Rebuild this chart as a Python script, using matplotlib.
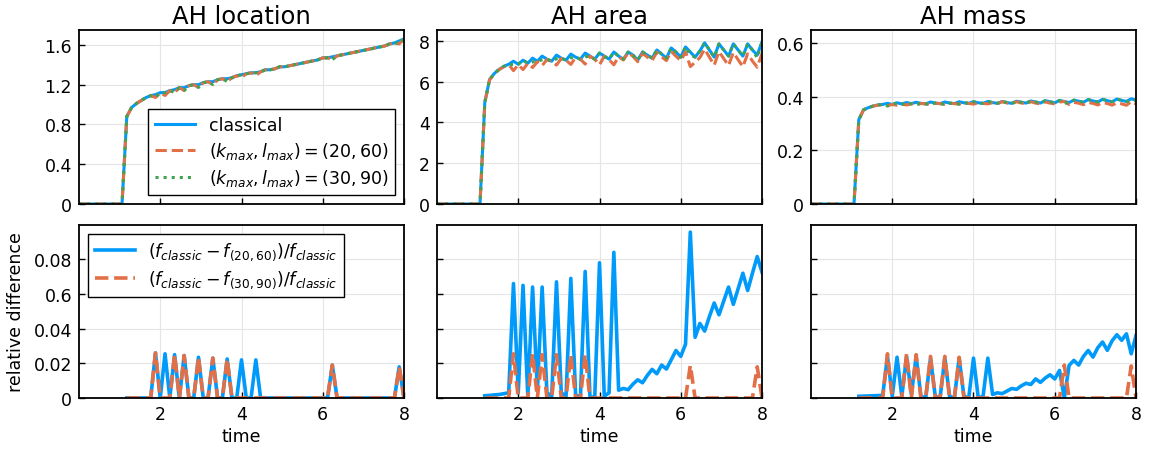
import numpy as np
import matplotlib
matplotlib.use("Agg")
import matplotlib.pyplot as plt

# time grid (69 output steps on [0, 8])
t = np.linspace(0, 8, 69)
i0 = 10  # first step after the apparent horizon shows up

# classical solutions (from step 10 on, zero before)
loc_classic = [0.88, 0.97, 1.01, 1.04, 1.07, 1.09, 1.10, 1.12, 1.12, 1.14,
               1.15, 1.17, 1.17, 1.19, 1.20, 1.20, 1.22, 1.23, 1.23, 1.25,
               1.26, 1.26, 1.27, 1.29, 1.30, 1.31, 1.32, 1.32, 1.33, 1.35,
               1.35, 1.36, 1.38, 1.38, 1.39, 1.40, 1.41, 1.42, 1.43, 1.44,
               1.45, 1.47, 1.47, 1.48, 1.49, 1.50, 1.51, 1.52, 1.53, 1.54,
               1.55, 1.56, 1.57, 1.58, 1.59, 1.61, 1.62, 1.64, 1.66]
area_classic = [4.98, 6.10, 6.40, 6.60, 6.75, 6.85,
                7.00, 6.85, 7.05, 6.90, 7.15, 7.00, 7.25, 7.10, 7.00, 7.30,
                7.15, 7.05, 7.35, 7.20, 7.10, 7.40, 7.25, 7.10, 7.40, 7.25,
                7.10, 7.45, 7.25, 7.10, 7.45, 7.30, 7.05, 7.45, 7.30, 7.15,
                7.55, 7.35, 7.15, 7.65, 7.45, 7.20, 7.70, 7.45, 7.20, 7.50,
                7.90, 7.55, 7.20, 7.85, 7.55, 7.25, 7.85, 7.55, 7.25, 7.85,
                7.55, 7.30, 7.95]
mass_classic = [0.315, 0.352, 0.360, 0.366, 0.370, 0.372,
                0.376, 0.372, 0.378, 0.374, 0.379, 0.375, 0.380, 0.376, 0.374, 0.381,
                0.377, 0.375, 0.381, 0.377, 0.375, 0.382, 0.378, 0.376, 0.382, 0.378,
                0.376, 0.383, 0.379, 0.376, 0.383, 0.379, 0.376, 0.384, 0.380, 0.377,
                0.385, 0.381, 0.377, 0.386, 0.382, 0.378, 0.387, 0.383, 0.379, 0.388,
                0.384, 0.380, 0.390, 0.385, 0.381, 0.391, 0.386, 0.382, 0.392, 0.387,
                0.383, 0.393, 0.388]

# relative differences (from step 10 on)
loc_rd20 = [0, 0, 0, 0, 0, 0,
            .026, 0, .0255, 0, .025, 0, .0245, 0, 0, .0235, 0, 0, .023, 0, 0, .0225, 0, 0, .022, 0, 0, .022,
            0, 0, 0, 0, 0, 0, 0, 0, 0, 0, 0, 0, 0, 0, 0, .019,
            0, 0, 0, 0, 0, 0, 0, 0, 0, 0, 0, 0, 0, .018, 0]
loc_rd30 = [0, 0, 0, 0, 0, 0,
            .026, 0, 0, 0, .025, 0, .0245, 0, 0, .0235, 0, 0, .023, 0, 0, .0225, 0, 0, 0, 0, 0, 0,
            0, 0, 0, 0, 0, 0, 0, 0, 0, 0, 0, 0, 0, 0, 0, .019,
            0, 0, 0, 0, 0, 0, 0, 0, 0, 0, 0, 0, 0, .018, 0]
area_rd20 = [.0013, .0015, .0018, .002, .0025, .003,
             .066, .003, .065, .001, .064, .004, .064, .003, .001, .067, .003, .001, .069, .002,
             0, .073, .001, 0, .078, .001, .003, .084,
             .0045, .0055, .0048, .008, .0105, .0088, .013, .0165, .014, .019, .0167, .022,
             .0274, .024, .031, .0957, .035, .043, .0386, .047, .0548, .048, .056, .064,
             .054, .063, .072, .062, .072, .0816, .0726]
area_rd30 = [0, 0, 0, 0, 0, 0,
             .0255, 0, 0, 0, .0255, 0, .025, 0, 0, .025, 0, 0, .025, 0, 0, .025, 0, 0, 0, 0, 0, 0,
             0, 0, 0, 0, 0, 0, 0, 0, 0, 0, 0, 0, 0, 0, 0, .0188,
             0, 0, 0, 0, 0, 0, 0, 0, 0, 0, 0, 0, 0, .018, 0]
mass_rd20 = [.001, .0011, .0012, .0013, .0014, .0015,
             .024, .001, .0235, .001, .024, .002, .024, .001, 0, .023, .001, 0, .023, .001,
             0, .023, .001, 0, .023, 0, .001, .023,
             .002, .003, .0025, .004, .0055, .005, .007, .0085, .0078, .011, .009, .0115,
             .0134, .011, .0159, 0, .0188, .0217, .019, .024, .0274, .0236, .029, .0323,
             .0275, .033, .0365, .0333, .037, .0255, .036]
mass_rd30 = [0, 0, 0, 0, 0, 0,
             .0255, 0, 0, 0, .0255, 0, .025, 0, 0, .024, 0, 0, .024, 0, 0, .0235, 0, 0, 0, 0, 0, 0,
             0, 0, 0, 0, 0, 0, 0, 0, 0, 0, 0, 0, 0, 0, 0, .019,
             0, 0, 0, 0, 0, 0, 0, 0, 0, 0, 0, 0, 0, .0185, 0]

titles = ["AH location", "AH area", "AH mass"]
ylims = [1.75, 8.53, 0.65]
yticks = [[0, 0.4, 0.8, 1.2, 1.6], [0, 2, 4, 6, 8], [0, 0.2, 0.4, 0.6]]
yticklabels = [["0", "0.4", "0.8", "1.2", "1.6"], ["0", "2", "4", "6", "8"],
               ["0", "0.2", "0.4", "0.6"]]
rd_ticks = [0, 0.02, 0.04, 0.06, 0.08]
rd_ticklabels = ["0", "0.02", "0.04", "0.6", "0.08"]

blue, orange, green = "#009AFA", "#E36F47", "#3EA44E"

plt.rcParams["mathtext.fontset"] = "dejavusans"
fig = plt.figure(figsize=(11.5, 4.52), dpi=100)

lefts = [79 / 1150, 437 / 1150, 811 / 1150]
w = 325 / 1150
top_b, top_h = 1 - 205 / 452, 174 / 452
bot_b, bot_h = 1 - 399 / 452, 173 / 452
fs = 12.5


def style(ax):
    ax.grid(True, color="#e5e5e5", lw=0.8)
    ax.set_axisbelow(True)
    for s in ax.spines.values():
        s.set_linewidth(1.3)
    ax.tick_params(direction="in", length=4, width=1, labelsize=fs, pad=5)
    ax.set_xlim(0, 8)
    ax.set_xticks([2, 4, 6, 8])


classics = [loc_classic, area_classic, mass_classic]
rd20s = [loc_rd20, area_rd20, mass_rd20]
rd30s = [loc_rd30, area_rd30, mass_rd30]

for j in range(3):
    c = np.concatenate([np.zeros(i0), classics[j]])
    k20 = c.copy()
    k30 = c.copy()
    k20[i0:] = c[i0:] * (1 - np.array(rd20s[j]))
    k30[i0:] = c[i0:] * (1 - np.array(rd30s[j]))

    ax = fig.add_axes([lefts[j], top_b, w, top_h])
    style(ax)
    ax.plot(t, c, color=blue, lw=2.2, label="classical")
    ax.plot(t, k20, color=orange, lw=2.2, ls="--", label=r"$(k_{max}, l_{max}) = (20, 60)$")
    ax.plot(t, k30, color=green, lw=2.2, ls=":", label=r"$(k_{max}, l_{max}) = (30, 90)$")
    ax.set_ylim(0, ylims[j])
    ax.set_yticks(yticks[j])
    ax.set_yticklabels(yticklabels[j])
    ax.set_xticklabels([])
    ax.set_title(titles[j], fontsize=17.5, pad=5)
    if j == 0:
        leg = ax.legend(loc="lower right", fontsize=fs, frameon=True, fancybox=False,
                        edgecolor="black", framealpha=1, handlelength=2.3,
                        borderaxespad=0.5, labelspacing=0.35)
        leg.get_frame().set_linewidth(1.0)

    ax2 = fig.add_axes([lefts[j], bot_b, w, bot_h])
    style(ax2)
    ax2.plot(t[i0:], rd20s[j], color=blue, lw=2.6,
             label=r"$(f_{classic} - f_{(20, 60)})/f_{classic}$")
    ax2.plot(t[i0:], rd30s[j], color=orange, lw=2.6, ls="--",
             label=r"$(f_{classic} - f_{(30, 90)})/f_{classic}$")
    ax2.set_ylim(0, 0.0998)
    ax2.set_yticks(rd_ticks)
    ax2.set_xlabel("time", fontsize=fs, labelpad=3)
    if j == 0:
        ax2.set_yticklabels(rd_ticklabels)
        ax2.set_ylabel("relative difference", fontsize=fs)
        ax2.yaxis.set_label_coords(-0.165, 0.5)
        leg = ax2.legend(loc="upper left", fontsize=fs, frameon=True, fancybox=False,
                         edgecolor="black", framealpha=1, handlelength=2.3,
                         borderaxespad=0.5, labelspacing=0.35)
        leg.get_frame().set_linewidth(1.0)
    else:
        ax2.set_yticklabels([])

fig.savefig("out.png", dpi=100)
